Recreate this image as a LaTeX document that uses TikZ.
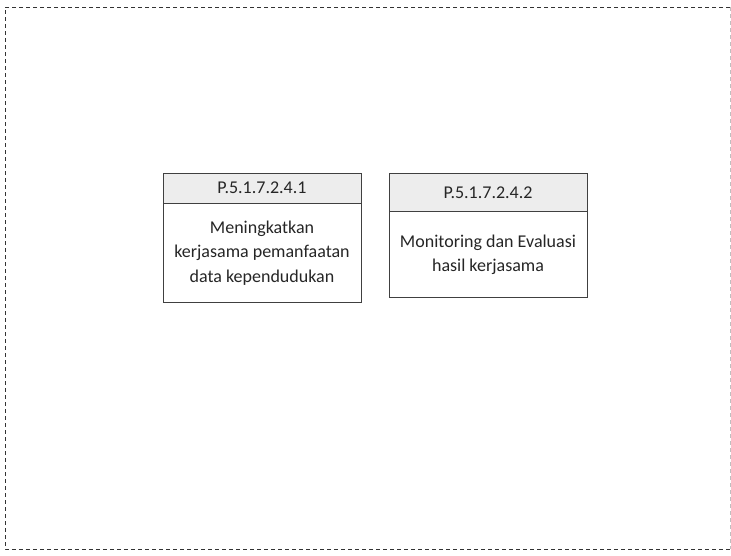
\documentclass[tikz,border=0pt]{standalone}
\usepackage{fontspec}
\setmainfont{Carlito}
\begin{document}
\begin{tikzpicture}[x=1pt,y=-1pt,
  hdr/.style={draw=black!75,fill=black!7,line width=0.9pt,inner sep=0pt},
  bodybox/.style={draw=black!75,fill=white,line width=0.9pt,inner sep=0pt},
  txt/.style={font=\fontsize{18}{24.5}\selectfont,align=center,text=black!85},
  frame/.style={draw=black!80,dash pattern=on 4pt off 3pt,line width=0.8pt}]
\useasboundingbox (0,0) rectangle (731,555);
\draw[frame] (730,7) -- (5,7) -- (5,549) -- (730,549);
\draw[draw=black!25,dash pattern=on 4pt off 3pt,line width=0.6pt] (730,7) -- (730,549);
% box 1
\path[hdr] (163,173) rectangle (361,203);
\path[bodybox] (163,203) rectangle (361,302);
\node[txt] (h1) at (262,188) {P.5.1.7.2.4.1};
\node[txt] (b1) at (262,253) {Meningkatkan\\kerjasama  pemanfaatan\\data kependudukan};
% box 2
\path[hdr] (389,173) rectangle (587,211);
\path[bodybox] (389,211) rectangle (587,297);
\node[txt] (h2) at (488,192.5) {P.5.1.7.2.4.2};
\node[txt] (b2) at (488,255) {Monitoring dan Evaluasi\\hasil kerjasama};
\end{tikzpicture}
\end{document}
